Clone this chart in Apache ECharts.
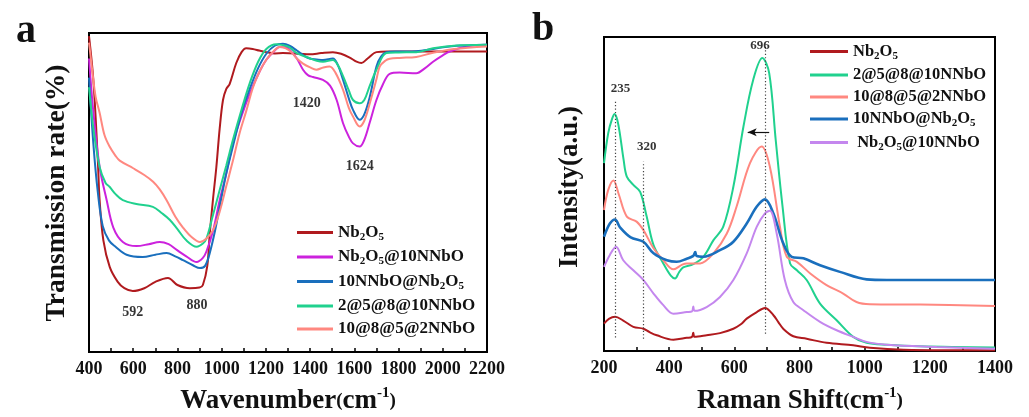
<!DOCTYPE html>
<html>
<head>
<meta charset="utf-8">
<script src="https://cdn.jsdelivr.net/npm/echarts@6/dist/echarts.min.js"></script>
<style>html,body{margin:0;padding:0;background:#fff}#c{width:1029px;height:417px}</style>
</head>
<body>
<div id="c"></div>
<script>
// ---------- Panel a: FTIR (wavenumber, transmission in arbitrary 0-100 units) ----------
const ftirNb2O5 = [[400,99],[420,85],[440,60],[448,47.6],[465,35],[494,26.6],[530,22],[560,20],[598,19.1],[650,20],[700,22],[757,23.2],[800,21],[856,20],[900,20.2],[915,21],[935,27],[946,37],[961,48],[976,58],[991,70],[1006,79],[1021,82.5],[1036,84],[1066,90.6],[1090,94],[1111,95.2],[1140,95],[1170,94.5],[1202,94],[1240,93.6],[1277,93.7],[1350,93.5],[1398,93.3],[1450,93.7],[1503,94],[1540,93.5],[1579,92.3],[1610,91],[1632,90.6],[1660,92],[1700,94],[1750,94.2],[2200,94.2]];
const ftirNb2O5at10 = [[400,92],[420,75],[448,58],[480,47.6],[510,39],[553,34.5],[615,33.2],[670,33.8],[720,34.5],[760,33.8],[797,32],[840,30],[887,28.2],[915,29.5],[931,31.5],[961,38],[991,47.6],[1021,56],[1051,65.4],[1090,74],[1127,81],[1165,87],[1202,91.6],[1240,94.5],[1262,95.6],[1290,95.5],[1307,94.8],[1340,92],[1368,88.5],[1390,86.8],[1413,86.2],[1458,85.3],[1490,83.5],[1520,79],[1549,71.7],[1575,67.5],[1594,65.4],[1624,64.4],[1645,66.5],[1670,72],[1700,79],[1730,84],[1760,87.2],[1805,87.6],[1880,87.4],[1920,89],[1956,91],[2000,93],[2031,94.2],[2107,95.8],[2200,96.3]];
const ftir10atNb2O5 = [[400,86],[420,65],[440,50],[462,39.5],[490,35],[520,33],[570,30.5],[643,29.8],[700,30.5],[751,31],[790,30],[825,28.8],[870,27.2],[902,26.3],[925,27],[946,31],[970,38],[991,45.5],[1021,56],[1051,64.5],[1090,75],[1127,82.5],[1165,89],[1202,93.5],[1240,96],[1277,96.6],[1307,96],[1340,94.5],[1370,93],[1398,92],[1430,91.7],[1458,91.5],[1503,92],[1525,90],[1549,85.3],[1575,79.5],[1594,75.9],[1624,72.8],[1645,74.5],[1670,80],[1700,89.5],[1720,92.5],[1745,94],[1800,94.2],[1880,94.3],[1956,95],[2030,95.8],[2200,96.3]];
const ftir2581 = [[400,83],[420,70],[448,58],[475,53],[493,51.8],[520,49.5],[553,47.6],[614,46.4],[689,45.5],[730,43.5],[766,41.4],[800,38.5],[840,35],[887,33],[915,34],[931,35.5],[961,43],[991,50.8],[1021,58.5],[1051,66.5],[1090,76],[1127,84.3],[1165,91],[1202,95],[1247,96.5],[1277,96.2],[1307,95.5],[1340,93.7],[1398,92.1],[1430,91.3],[1458,91],[1503,91.5],[1525,90],[1549,86.5],[1575,82],[1594,79],[1624,78],[1645,79],[1670,83.5],[1700,88.5],[1745,93.7],[1800,93.9],[1880,94],[1956,95.2],[2050,96],[2200,96.3]];
const ftir10852 = [[400,97],[415,88],[430,80],[448,75],[470,68],[493,64.4],[520,61.5],[539,60],[600,57.6],[650,55.5],[690,53.4],[720,51],[751,47.6],[790,42.5],[825,39],[860,36.3],[902,34.5],[930,35.5],[961,38.2],[991,44],[1021,52],[1051,60],[1081,68.6],[1111,75.5],[1142,83],[1172,88],[1202,91.6],[1235,94.3],[1262,95.6],[1290,95.2],[1315,94],[1340,92],[1368,90.4],[1400,89.2],[1428,88.5],[1460,89.2],[1488,89.5],[1515,87.5],[1549,82.2],[1575,76.5],[1594,73.8],[1624,70.7],[1645,72.5],[1670,78],[1700,85.5],[1715,89.5],[1740,91.3],[1760,91.9],[1805,92.2],[1880,92.5],[1956,93.8],[2050,95],[2200,95.8]];
const ftirLabels = [[598,12.5,'592'],[888,14.7,'880'],[1385,78,'1420'],[1625,58.3,'1624']];

// ---------- Panel b: Raman (shift, intensity in arbitrary 0-100 units) ----------
const ramNb2O5 = [[200,8.7],[215,10.2],[234,10.9],[259,9.7],[290,7.7],[321,7.1],[340,6],[362,5],[413,3.6],[454,4.2],[470,4.5],[474,5.8],[478,4.5],[515,5],[556,5.7],[597,7.1],[620,8.5],[638,10.3],[669,12.4],[694,13.7],[720,11.4],[735,9.2],[750,7.1],[781,4.7],[822,3.9],[883,2.6],[965,1.8],[1016,1],[1119,0.4],[1400,0.2]];
const ram2581 = [[200,59.8],[213,69.4],[225,74],[233,75.5],[241,73.5],[249,69],[260,61],[270,55.5],[290,52.9],[311,50.7],[331,42.8],[352,33.7],[382,27.9],[405,24],[418,23.1],[430,25],[443,26.6],[474,27.7],[505,30],[536,35.3],[566,39.6],[597,52.3],[628,71.5],[658,86.4],[686,93.3],[707,88.5],[727,67.2],[748,46],[771,27.9],[792,25.7],[822,22.6],[863,15.1],[914,9.8],[965,4.5],[1006,2.6],[1068,2],[1170,1.5],[1400,1.1]];
const ram10852 = [[200,44.9],[213,51.3],[229,54.3],[245,50],[270,42.8],[300,41.2],[321,38.5],[352,32.7],[382,28.9],[413,26],[440,27.5],[454,27.9],[495,27.9],[536,31.1],[577,37.4],[607,46],[648,59.8],[684,65.1],[709,58.7],[740,39.6],[761,30],[792,28.4],[833,24.7],[883,21],[934,18.3],[975,15.6],[1016,14.9],[1170,14.8],[1400,14.3]];
const ram10atNb2O5 = [[200,36.4],[218,40.6],[234,41.9],[249,39.4],[282,36.2],[321,34.8],[352,31.1],[393,28.9],[423,28.4],[454,29.4],[474,30.3],[480,31.5],[484,30.3],[505,30],[556,32.1],[597,34.8],[638,40.6],[669,46],[694,48.3],[720,43.8],[750,34.3],[776,30],[812,29.5],[863,27.3],[924,25.2],[1006,22.8],[1068,22.6],[1400,22.6]];
const ramNb2O5at10 = [[200,26.8],[218,30.6],[237,33.2],[259,28.9],[290,25.7],[321,22.6],[352,18.3],[382,14.6],[413,11.9],[454,12.4],[470,12.6],[474,14.2],[478,12.8],[515,14],[556,17.2],[597,22.6],[638,31.1],[669,39.6],[694,43.8],[709,44.7],[730,37.4],[755,22.6],[781,15.6],[812,13],[863,9.3],[914,6.6],[965,4.5],[1006,2.9],[1068,2],[1221,1.3],[1400,0.7]];
const ramLabels = [[251,83.4,'235'],[331,65,'320'],[679,97.1,'696']];
const ramGuides = [[235,4.3,80],[320,3.9,60.3],[696,5.5,97]];
const ramArrow = [[641,69.7],[707,69.7]];

const ftirTicks = [400,2200,200];
const ramTicks = [200,1400,200];

// ---------- styling ----------
const FONT = "'Liberation Serif','Times New Roman',serif";
const C = {red:'#b01a1e', mag:'#cc22dd', blue:'#1a6fbd', green:'#20d18e', salmon:'#ff8880', lav:'#c487ee'};

function mkRich(fs){
  return {
    n:{fontFamily:FONT,fontWeight:'bold',fontSize:fs,color:'#111',lineHeight:20,verticalAlign:'middle'},
    s:{fontFamily:FONT,fontWeight:'bold',fontSize:Math.round(fs*0.65),color:'#111',lineHeight:9,verticalAlign:'bottom'}
  };
}
const labelMap = {
  'Nb2O5':'{n|Nb}{s|2}{n|O}{s|5}',
  'Nb2O5@10NNbO':'{n|Nb}{s|2}{n|O}{s|5}{n|@10NNbO}',
  ' Nb2O5@10NNbO':'{n| Nb}{s|2}{n|O}{s|5}{n|@10NNbO}',
  '10NNbO@Nb2O5':'{n|10NNbO@Nb}{s|2}{n|O}{s|5}',
  '2@5@8@10NNbO':'{n|2@5@8@10NNbO}',
  '10@8@5@2NNbO':'{n|10@8@5@2NNbO}'
};
function lf(name){ return labelMap[name.slice(2)] || name.slice(2); }

function line(name, data, color, xi, w){
  return {type:'line', name:name, data:data, xAxisIndex:xi, yAxisIndex:xi, smooth:0.35,
    symbol:'none', lineStyle:{color:color, width:w||2}, itemStyle:{color:color},
    silent:true, z:3};
}

function xAxis(t, gi){
  return {type:'value', gridIndex:gi, min:t[0], max:t[1], interval:t[2],
    axisLine:{show:true, lineStyle:{color:'#000', width:2}},
    axisTick:{show:true, inside:true, length:4, lineStyle:{color:'#000', width:1.5}},
    minorTick:{show:true, splitNumber:2, length:4, lineStyle:{color:'#000', width:1.5}},
    splitLine:{show:false},
    axisLabel:{fontFamily:FONT, fontWeight:'bold', fontSize:18, color:'#111', margin:8, formatter:v=>String(v)}};
}
function yAxis(gi){
  return {type:'value', gridIndex:gi, min:0, max:100,
    axisLine:{show:true, lineStyle:{color:'#000', width:2}},
    axisTick:{show:false}, axisLabel:{show:false}, splitLine:{show:false}};
}

const seriesA = [
  line('a-Nb2O5', ftirNb2O5, C.red, 0),
  line('a-Nb2O5@10NNbO', ftirNb2O5at10, C.mag, 0),
  line('a-10NNbO@Nb2O5', ftir10atNb2O5, C.blue, 0),
  line('a-2@5@8@10NNbO', ftir2581, C.green, 0),
  line('a-10@8@5@2NNbO', ftir10852, C.salmon, 0)
];
const seriesB = [
  line('b-Nb2O5', ramNb2O5, C.red, 1),
  line('b-2@5@8@10NNbO', ram2581, C.green, 1),
  line('b-10@8@5@2NNbO', ram10852, C.salmon, 1),
  line('b-10NNbO@Nb2O5', ram10atNb2O5, C.blue, 1, 2.6),
  line('b- Nb2O5@10NNbO', ramNb2O5at10, C.lav, 1)
];

const annLabel = {show:true, position:'inside', formatter:p=>p.value[2],
  fontFamily:FONT, fontWeight:'bold', fontSize:14, color:'#000'};
const annA = {type:'scatter', xAxisIndex:0, yAxisIndex:0, data:ftirLabels, symbolSize:0, silent:true, label:annLabel, z:5};
const annB = {type:'scatter', xAxisIndex:1, yAxisIndex:1, data:ramLabels, symbolSize:0, silent:true,
  label:Object.assign({}, annLabel, {fontSize:13}), z:5,
  markLine:{silent:true, symbol:['none','none'], label:{show:false},
    lineStyle:{color:'#444', type:[1.2,2.2], width:1.2},
    data: ramGuides.map(g=>[{coord:[g[0],g[1]]},{coord:[g[0],g[2]]}]).concat([
      [{coord:ramArrow[0], symbol:'arrow', symbolSize:[6,9], lineStyle:{type:'solid', color:'#111', width:1.2}},
       {coord:ramArrow[1], symbol:'none', lineStyle:{type:'solid', color:'#111', width:1.2}}]
    ])}};

const titleRich = {
  m:{fontFamily:FONT, fontWeight:'bold', fontSize:27, color:'#111', lineHeight:30, verticalAlign:'middle'},
  p:{fontFamily:FONT, fontWeight:'bold', fontSize:19, color:'#111', lineHeight:30, verticalAlign:'middle'},
  u:{fontFamily:FONT, fontWeight:'bold', fontSize:15, color:'#111', lineHeight:11, verticalAlign:'top'}
};
function gtext(x, y, text, rot, rich, extra){
  return Object.assign({type:'text', x:x, y:y, rotation:rot||0, silent:true,
    style:{text:text, rich:rich, align:'center', verticalAlign:'middle', fill:'#111'}}, extra||{});
}

const option = {
  animation:false,
  backgroundColor:'#fff',
  grid:[
    {left:89, top:33, width:398, height:319, show:true, borderColor:'#000', borderWidth:2, backgroundColor:'transparent'},
    {left:604, top:37, width:391, height:314, show:true, borderColor:'#000', borderWidth:2, backgroundColor:'transparent'}
  ],
  xAxis:[xAxis(ftirTicks,0), xAxis(ramTicks,1)],
  yAxis:[yAxis(0), yAxis(1)],
  legend:[
    {orient:'vertical', left:297, top:224, padding:0, itemGap:6, itemWidth:36, itemHeight:3, icon:'rect',
     data:seriesA.map(s=>s.name), formatter:lf, textStyle:{rich:mkRich(17)}, selectedMode:false},
    {orient:'vertical', left:810, top:43, padding:0, itemGap:5, itemWidth:38, itemHeight:3, icon:'rect',
     data:seriesB.map(s=>s.name), formatter:lf, textStyle:{rich:mkRich(16.5)}, selectedMode:false}
  ],
  series: seriesA.concat(seriesB, [annA, annB]),
  graphic:[
    gtext(26, 32, '{a|a}', 0, {a:{fontFamily:FONT, fontWeight:'bold', fontSize:40, color:'#000'}}),
    gtext(543, 30, '{a|b}', 0, {a:{fontFamily:FONT, fontWeight:'bold', fontSize:40, color:'#000'}}),
    gtext(288, 401, '{m|Wavenumber}{p|(}{m|cm}{u|-1}{p|)}', 0, titleRich),
    gtext(800, 401, '{m|Raman Shift}{p|(}{m|cm}{u|-1}{p|)}', 0, titleRich),
    gtext(57, 193, '{m|Transmission rate(%)}', Math.PI/2, {m:Object.assign({}, titleRich.m, {fontSize:27.5})}),
    gtext(570, 187, '{m|Intensity(a.u.)}', Math.PI/2, {m:Object.assign({}, titleRich.m, {fontSize:27})})
  ]
};
const chart = echarts.init(document.getElementById('c'), null, {renderer:'canvas'});
chart.setOption(option);
</script>
</body>
</html>
